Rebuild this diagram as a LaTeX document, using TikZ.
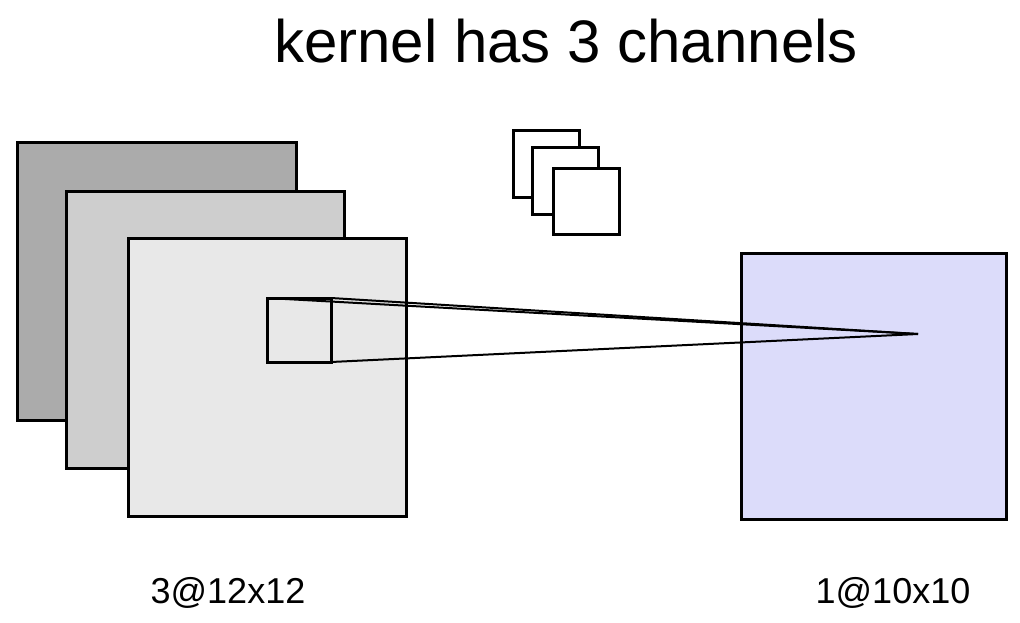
\documentclass[tikz,border=0pt]{standalone}
\usepackage{fontspec}
\setmainfont{Liberation Sans}
\usepackage{tikz}

\definecolor{chanback}{HTML}{ABABAB}
\definecolor{chanmid}{HTML}{CECECE}
\definecolor{chanfront}{HTML}{E8E8E8}
\definecolor{outmap}{HTML}{DCDCFA}

\tikzset{
  fmap/.style={draw=black, line width=3pt},
  kbox/.style={draw=black, line width=3pt, fill=white, inner sep=0pt, outer sep=0pt, minimum size=66pt},
  ray/.style={line width=2pt}
}

\begin{document}
\begin{tikzpicture}[x=1pt,y=-1pt]
  \useasboundingbox (0,0) rectangle (1020,623);

  % title
  \node (title) [anchor=base, font=\fontsize{60}{64}\selectfont] at (566,63) {kernel has 3 channels};

  % input channels
  \draw[fmap, fill=chanback] (17,143) rectangle (296,420);
  \draw[fmap, fill=chanmid] (66,191) rectangle (344,468);
  \draw[fmap, fill=chanfront] (128,238) rectangle (406,516);

  % kernel stack
  \node (k1) [kbox] at (546,164) {};
  \node (k2) [kbox] at (565,181) {};
  \node (k3) [kbox] at (586,201) {};

  % output map
  \node (out) [fmap, fill=outmap, inner sep=0pt, outer sep=0pt, minimum width=265pt, minimum height=266pt] at (873.5,386) {};

  % receptive field
  \node (win) [draw, line width=3pt, inner sep=0pt, outer sep=0pt, minimum size=64pt] at (299,330) {};
  \coordinate (apex) at (918,334);
  \draw[ray] (win.north west) -- (apex);
  \draw[ray] (win.north east) -- (apex);
  \draw[ray] (win.south east) -- (apex);

  % labels
  \node (inlabel) [anchor=base, font=\fontsize{36}{40}\selectfont] at (228,603) {3@12x12};
  \node (outlabel) [anchor=base, font=\fontsize{36}{40}\selectfont] at (893,603) {1@10x10};

\end{tikzpicture}
\end{document}
